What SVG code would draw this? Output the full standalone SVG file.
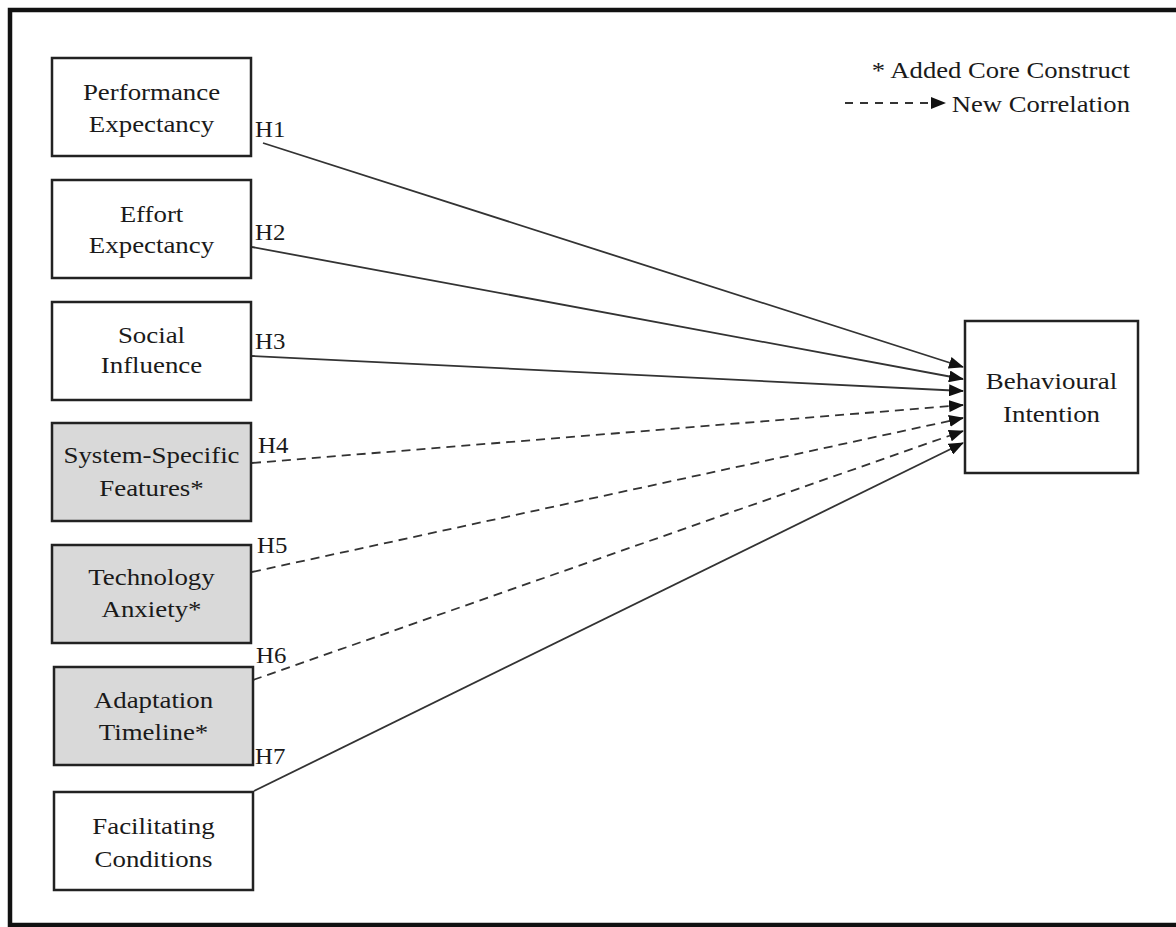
<svg xmlns="http://www.w3.org/2000/svg" width="1176" height="927" viewBox="0 0 1176 927">
  <style>
    .box { fill: #ffffff; stroke: #222222; stroke-width: 2.5; }
    .box.core { fill: #d9d9d9; }
    .lbl { font-family: "Liberation Serif", "Times New Roman", serif; font-size: 24px; fill: #1a1a1a; text-anchor: middle; }
    .hyp { font-family: "Liberation Serif", "Times New Roman", serif; font-size: 23px; fill: #1a1a1a; }
    .leg { font-family: "Liberation Serif", "Times New Roman", serif; font-size: 24px; fill: #1a1a1a; text-anchor: end; }
    .link { fill: none; stroke: #333333; stroke-width: 1.8; marker-end: url(#arrow); }
    .link.new { stroke-dasharray: 9 6; }
  </style>
  <defs>
    <marker id="arrow" markerUnits="userSpaceOnUse" markerWidth="15" markerHeight="12" refX="14" refY="6" orient="auto">
      <path d="M0,0 L15,6 L0,12 Z" fill="#111111"/>
    </marker>
  </defs>

  <rect width="1176" height="927" fill="#ffffff"/>
  <!-- outer frame -->
  <rect x="10" y="10" width="1180" height="915" fill="none" stroke="#111111" stroke-width="4.5"/>

  <!-- legend -->
  <g id="legend">
    <g transform="translate(1130 78) scale(1.11 1)"><text class="leg" x="0" y="0">* Added Core Construct</text></g>
    <line x1="845" y1="103" x2="945" y2="103" stroke="#333333" stroke-width="1.8" stroke-dasharray="8 7" marker-end="url(#arrow)"/>
    <g transform="translate(1130 112) scale(1.11 1)"><text class="leg" x="0" y="0">New Correlation</text></g>
  </g>

  <!-- connectors -->
  <g id="connectors">
    <line class="link" x1="263" y1="143" x2="963" y2="367"/>
    <line class="link" x1="252" y1="247" x2="963" y2="379"/>
    <line class="link" x1="252" y1="356" x2="963" y2="391"/>
    <line class="link new" x1="252" y1="463" x2="963" y2="405"/>
    <line class="link new" x1="252" y1="572" x2="963" y2="418"/>
    <line class="link new" x1="253" y1="680" x2="963" y2="431"/>
    <line class="link" x1="254" y1="791" x2="963" y2="443"/>
    <g id="hypotheses">
      <g transform="translate(255 137) scale(1.08 1)"><text class="hyp">H1</text></g>
      <g transform="translate(255 240) scale(1.08 1)"><text class="hyp">H2</text></g>
      <g transform="translate(255 349) scale(1.08 1)"><text class="hyp">H3</text></g>
      <g transform="translate(258 453) scale(1.08 1)"><text class="hyp">H4</text></g>
      <g transform="translate(257 553) scale(1.08 1)"><text class="hyp">H5</text></g>
      <g transform="translate(256 663) scale(1.08 1)"><text class="hyp">H6</text></g>
      <g transform="translate(255 764) scale(1.08 1)"><text class="hyp">H7</text></g>
    </g>
  </g>

  <!-- constructs -->
  <g id="performance-expectancy">
    <rect class="box" x="52" y="58" width="199" height="98"/>
    <g transform="translate(151.5 0) scale(1.12 1)">
      <text class="lbl" x="0" y="100">Performance</text>
      <text class="lbl" x="0" y="132">Expectancy</text>
    </g>
  </g>
  <g id="effort-expectancy">
    <rect class="box" x="52" y="180" width="199" height="98"/>
    <g transform="translate(151.5 0) scale(1.12 1)">
      <text class="lbl" x="0" y="222">Effort</text>
      <text class="lbl" x="0" y="253">Expectancy</text>
    </g>
  </g>
  <g id="social-influence">
    <rect class="box" x="52" y="302" width="199" height="98"/>
    <g transform="translate(151.5 0) scale(1.12 1)">
      <text class="lbl" x="0" y="343">Social</text>
      <text class="lbl" x="0" y="373">Influence</text>
    </g>
  </g>
  <g id="system-specific-features">
    <rect class="box core" x="52" y="423" width="199" height="98"/>
    <g transform="translate(151.5 0) scale(1.12 1)">
      <text class="lbl" x="0" y="463">System-Specific</text>
      <text class="lbl" x="0" y="496">Features*</text>
    </g>
  </g>
  <g id="technology-anxiety">
    <rect class="box core" x="52" y="545" width="199" height="98"/>
    <g transform="translate(151.5 0) scale(1.12 1)">
      <text class="lbl" x="0" y="585">Technology</text>
      <text class="lbl" x="0" y="617">Anxiety*</text>
    </g>
  </g>
  <g id="adaptation-timeline">
    <rect class="box core" x="54" y="667" width="199" height="98"/>
    <g transform="translate(153.5 0) scale(1.12 1)">
      <text class="lbl" x="0" y="708">Adaptation</text>
      <text class="lbl" x="0" y="740">Timeline*</text>
    </g>
  </g>
  <g id="facilitating-conditions">
    <rect class="box" x="54" y="792" width="199" height="98"/>
    <g transform="translate(153.5 0) scale(1.12 1)">
      <text class="lbl" x="0" y="834">Facilitating</text>
      <text class="lbl" x="0" y="867">Conditions</text>
    </g>
  </g>
  <g id="behavioural-intention">
    <rect class="box" x="965" y="321" width="173" height="152"/>
    <g transform="translate(1051.5 0) scale(1.12 1)">
      <text class="lbl" x="0" y="389">Behavioural</text>
      <text class="lbl" x="0" y="422">Intention</text>
    </g>
  </g>
</svg>
